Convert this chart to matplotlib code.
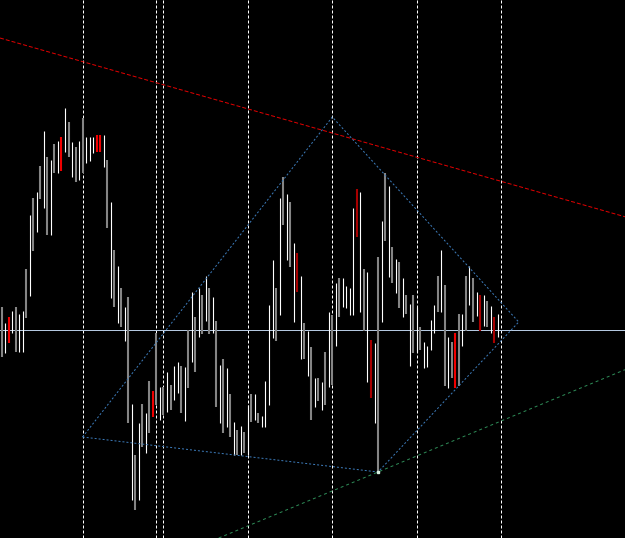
from matplotlib import pyplot as plt
import numpy as np

# bar data (prices in chart units), kind: w = up bar, g = down bar, r / d = flagged bars
highs = [231, 215, 221, 227, 231, 224, 227, 269, 323, 340, 346, 372, 407, 381, 378, 394, 397, 401, 430, 416,
         396, 391, 397, 420, 401, 401, 401, 403, 403, 403, 378, 336, 288, 272, 250, 231, 241, 134, 83, 115,
         134, 125, 157, 147, 205, 151, 151, 166, 153, 172, 176, 172, 171, 208, 246, 221, 250, 243, 262, 250,
         241, 217, 173, 179, 170, 144, 116, 108, 112, 106, 133, 144, 144, 125, 122, 157, 233, 278, 250, 340,
         361, 344, 336, 295, 285, 262, 215, 207, 191, 160, 160, 156, 186, 226, 223, 255, 260, 260, 252, 250,
         330, 349, 346, 269, 266, 198, 195, 281, 317, 365, 352, 291, 279, 276, 260, 243, 234, 243, 231, 211,
         196, 192, 218, 233, 262, 288, 253, 201, 196, 205, 224, 224, 262, 272, 260, 246, 243, 243, 237, 232,
         221, 224]
lows = [181, 185, 195, 205, 186, 186, 186, 220, 242, 287, 306, 339, 330, 303, 303, 365, 365, 367, 386, 381,
        361, 356, 358, 365, 375, 377, 385, 386, 386, 371, 310, 240, 231, 215, 211, 197, 115, 38, 28, 38,
        91, 85, 105, 121, 133, 118, 123, 126, 128, 138, 145, 125, 117, 150, 176, 166, 201, 204, 217, 204,
        205, 131, 115, 105, 111, 101, 83, 83, 83, 85, 83, 116, 118, 115, 111, 111, 133, 200, 197, 223,
        313, 278, 271, 216, 246, 179, 179, 162, 118, 131, 137, 128, 133, 151, 153, 192, 221, 231, 230, 223,
        223, 301, 226, 207, 156, 140, 115, 66, 216, 297, 261, 255, 245, 230, 221, 224, 172, 185, 186, 188,
        170, 171, 188, 205, 226, 226, 152, 150, 160, 150, 152, 192, 207, 233, 216, 222, 207, 212, 211, 205,
        195, 201]
kinds = list(("gwrwgwwgwg wgwgwgwrwg wgwgwwwrrw gwgwgwgwgw gwgrgwgwgw "
              "wgwgwgwgwg wgwgwgwgwg wgwgwwwwgw gwgwdwgwgw gwgwgwgwww "
              "wdwgwdwgwg wgwgwgwgwg wwwwgwgwgr gwgwgwdwgw dw").replace(" ", ""))
assert len(kinds) == len(highs) == len(lows)

day_lines = [23, 44, 46, 70, 94, 118, 142]
level = 208
resistance = [(0, 499.5), (170, 328.5)]
support = [(107, 66), (177, 168)]
diamond = [(23, 101), (94, 421), (147, 216), (107, 66), (23, 101)]

colors = {'w': '#ffffff', 'g': '#858585', 'r': '#f00000', 'd': '#a80000'}
widths = {'w': 0.8, 'g': 1.5, 'r': 1.5, 'd': 1.5}
px = 0.72

fig = plt.figure(figsize=(6.25, 5.38), dpi=100, facecolor='black')
ax = fig.add_axes([0, 0, 1, 1], facecolor='black')

for x in day_lines:
    ax.axvline(x, color='white', lw=px, dashes=(3, 2), zorder=1)

ax.axhline(level, color='#b4c8e0', lw=px, zorder=2)

x = np.arange(len(highs))
for k in colors:
    idx = [i for i in range(len(highs)) if kinds[i] == k]
    ax.vlines(x[idx], [lows[i] for i in idx], [highs[i] for i in idx],
              colors=colors[k], lw=widths[k], zorder=3)

ax.axline(resistance[0], resistance[1], color='#e00000', lw=px, dashes=(4, 2), zorder=4)
ax.axline(support[0], support[1], color='#2e8b57', lw=px, dashes=(3, 3), zorder=4)
dx, dy = zip(*diamond)
ax.plot(dx, dy, color='#3c7ab8', lw=px, dashes=(2, 2), zorder=4)
ax.plot(support[0][0], support[0][1], 's', ms=1.8, color='#d8f0e0', zorder=5)

ax.set_xlim(-0.483, 177.22)
ax.set_ylim(0, 538)
ax.axis('off')

plt.savefig('out.png', dpi=100, facecolor='black')
